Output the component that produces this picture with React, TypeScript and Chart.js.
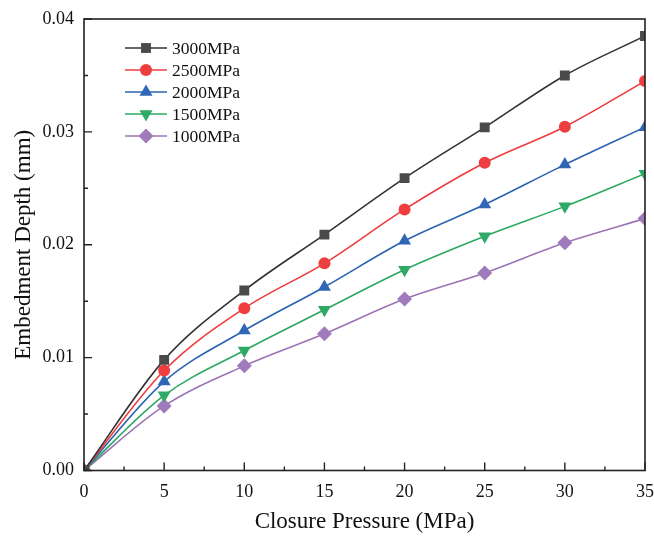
import React, { useEffect, useRef } from "react";
import { Chart, registerables } from "chart.js";
import { drawPoint } from "chart.js/helpers";

Chart.register(...registerables);

const pressures = [0, 5, 10, 15, 20, 25, 30, 35];
const s3000 = [0, 0.0098, 0.01595, 0.0209, 0.0259, 0.0304, 0.035, 0.0385];
const s2500 = [0, 0.00886, 0.01437, 0.01835, 0.02313, 0.02726, 0.03046, 0.0345];
const s2000 = [0, 0.00788, 0.0124, 0.01626, 0.02035, 0.02356, 0.0271, 0.03042];
const s1500 = [0, 0.00666, 0.01063, 0.01424, 0.01779, 0.02075, 0.0234, 0.0263];
const s1000 = [0, 0.00572, 0.00927, 0.01211, 0.01519, 0.0175, 0.02017, 0.02232];

const seriesLabels = ["3000MPa", "2500MPa", "2000MPa", "1500MPa", "1000MPa"];
const seriesValues = [s3000, s2500, s2000, s1500, s1000];
const lineColors = ["#333333", "#EE3B3D", "#2B62B2", "#2AA862", "#9B74B6"];
const markerColors = ["#4A4A4A", "#EF3E40", "#2F66B6", "#2EAA66", "#A07BBC"];
const markerStyles = ["rect", "circle", "triangle", "triangle", "rectRot"];
const markerRotations = [0, 0, 0, 180, 0];
const markerRadii = [7, 6, 7.5, 7.5, 7.5];

const FONT = "'Liberation Serif', 'Times New Roman', serif";

const framePlugin = {
  id: "frame",
  afterDatasetsDraw(chart: any) {
    const { ctx, chartArea: a, scales } = chart;
    const x = scales.x;
    const y = scales.y;
    ctx.save();
    ctx.strokeStyle = "#222222";
    ctx.lineWidth = 1.6;
    ctx.strokeRect(a.left, a.top, a.right - a.left, a.bottom - a.top);
    ctx.lineWidth = 1.4;
    ctx.beginPath();
    const xt = x.ticks.map((t: any) => t.value);
    for (let i = 0; i < xt.length; i++) {
      const px = x.getPixelForValue(xt[i]);
      ctx.moveTo(px, a.bottom);
      ctx.lineTo(px, a.bottom - 8);
      if (i < xt.length - 1) {
        const pm = x.getPixelForValue((xt[i] + xt[i + 1]) / 2);
        ctx.moveTo(pm, a.bottom);
        ctx.lineTo(pm, a.bottom - 4);
      }
    }
    const yt = y.ticks.map((t: any) => t.value);
    for (let i = 0; i < yt.length; i++) {
      const py = y.getPixelForValue(yt[i]);
      ctx.moveTo(a.left, py);
      ctx.lineTo(a.left + 8, py);
      if (i < yt.length - 1) {
        const pm = y.getPixelForValue((yt[i] + yt[i + 1]) / 2);
        ctx.moveTo(a.left, pm);
        ctx.lineTo(a.left + 4, pm);
      }
    }
    ctx.stroke();
    ctx.restore();
  },
};

const legendPlugin = {
  id: "innerLegend",
  afterDraw(chart: any) {
    const { ctx, chartArea: a } = chart;
    const x0 = a.left + 41;
    const x1 = a.left + 83;
    const xm = (x0 + x1) / 2;
    const y0 = a.top + 29;
    const step = 22;
    ctx.save();
    chart.data.datasets.forEach((ds: any, i: number) => {
      const yy = y0 + i * step;
      ctx.strokeStyle = ds.borderColor;
      ctx.lineWidth = 1.6;
      ctx.beginPath();
      ctx.moveTo(x0, yy);
      ctx.lineTo(x1, yy);
      ctx.stroke();
      ctx.fillStyle = ds.pointBackgroundColor;
      ctx.strokeStyle = ds.pointBackgroundColor;
      drawPoint(ctx, {
        pointStyle: ds.pointStyle,
        rotation: ds.pointRotation || 0,
        radius: ds.pointRadius,
        borderWidth: 0,
      } as any, xm, yy);
      ctx.fillStyle = "#111111";
      ctx.font = `17.5px ${FONT}`;
      ctx.textBaseline = "middle";
      ctx.textAlign = "left";
      ctx.fillText(ds.label, x1 + 5, yy + 1);
    });
    ctx.restore();
  },
};

export default function App() {
  const ref = useRef<HTMLCanvasElement | null>(null);
  useEffect(() => {
    if (!ref.current) return;
    const chart = new Chart(ref.current, {
      type: "line",
      data: {
        datasets: seriesLabels.map((label, i) => ({
          label,
          data: pressures.map((p, j) => ({ x: p, y: seriesValues[i][j] })),
          borderColor: lineColors[i],
          backgroundColor: markerColors[i],
          borderWidth: 1.6,
          pointBackgroundColor: markerColors[i],
          pointBorderColor: markerColors[i],
          pointBorderWidth: 0,
          pointStyle: markerStyles[i] as any,
          pointRotation: markerRotations[i],
          pointRadius: markerRadii[i],
          cubicInterpolationMode: "monotone" as const,
          clip: 0,
          fill: false,
        })),
      },
      plugins: [framePlugin, legendPlugin],
      options: {
        animation: false,
        responsive: false,
        layout: { padding: { top: 19, right: 0, left: 0, bottom: 0 } },
        plugins: {
          legend: { display: false },
          tooltip: { enabled: false },
        },
        scales: {
          x: {
            type: "linear",
            min: 0,
            max: 35,
            ticks: {
              stepSize: 5,
              color: "#111111",
              padding: 11,
              maxRotation: 0,
              font: { family: FONT, size: 18 },
            },
            grid: { display: false, drawTicks: false },
            border: { display: false },
            title: {
              display: true,
              text: "Closure Pressure (MPa)",
              color: "#111111",
              font: { family: FONT, size: 23 },
              padding: { top: 0, bottom: 2 },
            },
            afterFit(scale: any) {
              scale.height = 67.5;
              scale.paddingRight = 9;
              scale.paddingLeft = 0;
            },
          },
          y: {
            type: "linear",
            min: 0,
            max: 0.04,
            ticks: {
              stepSize: 0.01,
              color: "#111111",
              padding: 10,
              font: { family: FONT, size: 18 },
              callback: (v: any) => Number(v).toFixed(2),
            },
            grid: { display: false, drawTicks: false },
            border: { display: false },
            title: {
              display: true,
              text: "Embedment Depth (mm)",
              color: "#111111",
              font: { family: FONT, size: 23 },
              padding: { top: 10, bottom: 0 },
            },
            afterFit(scale: any) {
              scale.width = 84;
              scale.paddingTop = 0;
              scale.paddingBottom = 0;
            },
          },
        },
      },
    });
    return () => chart.destroy();
  }, []);
  return (
    <div style={{ position: "absolute", left: 0, top: 0, width: 654, height: 538, background: "#ffffff" }}>
      <canvas ref={ref} width={654} height={538} style={{ display: "block" }} />
    </div>
  );
}
